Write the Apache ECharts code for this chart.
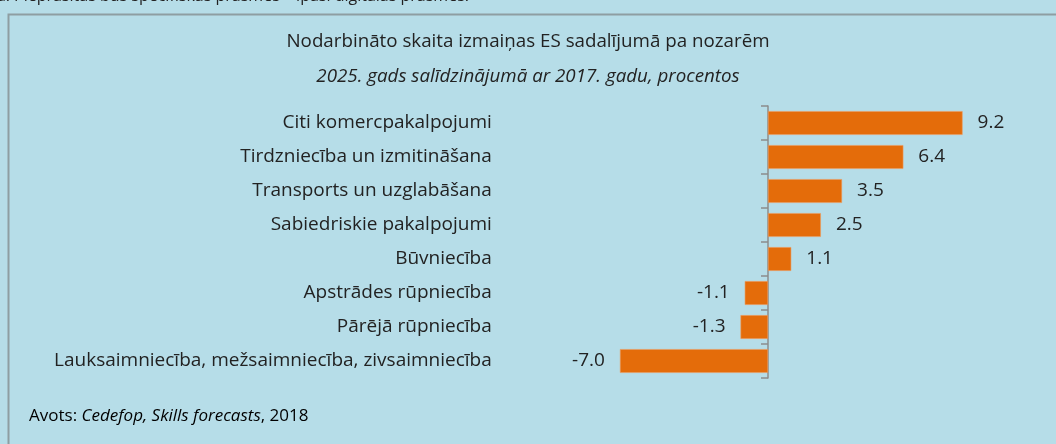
<!DOCTYPE html>
<html>
<head>
<meta charset="utf-8">
<script src="https://cdn.jsdelivr.net/npm/echarts@6/dist/echarts.min.js"></script>
<style>
  html, body { margin: 0; padding: 0; background: #b6dde8; }
  #chart { width: 1056px; height: 444px; }
</style>
</head>
<body>
<div id="chart"></div>
<script>
// Sectors, top to bottom
const sectors = [
  'Citi komercpakalpojumi',
  'Tirdzniecība un izmitināšana',
  'Transports un uzglabāšana',
  'Sabiedriskie pakalpojumi',
  'Būvniecība',
  'Apstrādes rūpniecība',
  'Pārējā rūpniecība',
  'Lauksaimniecība, mežsaimniecība, zivsaimniecība'
];
// Change in employment, 2025 vs 2017, %
const changePct = [9.2, 6.4, 3.5, 2.5, 1.1, -1.1, -1.3, -7.0];

const titleLines = [
  'Nodarbināto skaita izmaiņas ES sadalījumā pa nozarēm',
  '2025. gads salīdzinājumā ar 2017. gadu, procentos'
];

const FONT = '"Open Sans", "Noto Sans", sans-serif';
const TEXT = '#222222';
const ORANGE = '#e46c0a';

const chart = echarts.init(document.getElementById('chart'), null, { renderer: 'canvas' });

const barData = changePct.map(v => ({
  value: v,
  label: { position: v < 0 ? 'left' : 'right' }
}));

chart.setOption({
  backgroundColor: '#b6dde8',
  animation: false,
  title: {
    text: titleLines[0],
    subtext: titleLines[1],
    left: 'center',
    top: 27,
    itemGap: 16,
    textStyle: { fontFamily: FONT, fontSize: 18.75, fontWeight: 'normal', color: TEXT },
    subtextStyle: { fontFamily: FONT, fontSize: 18.75, fontStyle: 'italic', color: TEXT }
  },
  grid: {
    left: 598.8, right: 76.5, top: 106, bottom: 66,
    containLabel: false,
    outerBoundsMode: 'none'
  },
  xAxis: {
    type: 'value',
    min: -8,
    max: 10,
    show: false
  },
  yAxis: {
    type: 'category',
    data: sectors,
    inverse: true,
    axisLine: { show: true, onZero: true, lineStyle: { color: '#8c8c8c', width: 1.5 } },
    axisTick: { show: true, length: 7, lineStyle: { color: '#8c8c8c', width: 1.5 } },
    axisLabel: {
      margin: 107,
      padding: [4, 0, 0, 0],
      fontFamily: FONT,
      fontSize: 19,
      color: TEXT
    },
    splitLine: { show: false }
  },
  series: [{
    type: 'bar',
    data: barData,
    barCategoryGap: '30%',
    itemStyle: { color: ORANGE, borderColor: '#ee9a5c', borderWidth: 0.6 },
    label: {
      show: true,
      distance: 15,
      padding: [4, 0, 0, 0],
      fontFamily: FONT,
      fontSize: 19,
      color: TEXT,
      formatter: p => p.value.toFixed(1)
    }
  }],
  graphic: [
    {
      type: 'rect',
      silent: true,
      shape: { x: 8.5, y: 14.5, width: 1200, height: 600 },
      style: { fill: null, stroke: '#8e9ea2', lineWidth: 2 }
    },
    {
      type: 'text',
      silent: true,
      x: 10, y: -4,
      style: {
        text: 'a:',
        font: '16px ' + FONT,
        fill: TEXT,
        textAlign: 'right',
        textVerticalAlign: 'middle'
      }
    },
    {
      type: 'text',
      silent: true,
      x: 14, y: -4,
      style: {
        text: 'Pieprasītās būs specifiskās prasmes – īpaši digitālās prasmes.',
        font: '16px ' + FONT,
        fill: TEXT,
        textAlign: 'left',
        textVerticalAlign: 'middle'
      }
    },
    {
      type: 'text',
      silent: true,
      x: 29, y: 416,
      style: {
        text: '{r|Avots: }{i|Cedefop, Skills forecasts}{r|, 2018}',
        textVerticalAlign: 'middle',
        rich: {
          r: { fontFamily: FONT, fontSize: 17, color: TEXT },
          i: { fontFamily: FONT, fontSize: 17, fontStyle: 'italic', color: TEXT }
        }
      }
    }
  ]
});
</script>
</body>
</html>
